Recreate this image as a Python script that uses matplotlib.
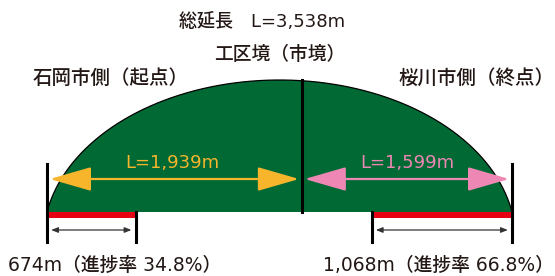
import numpy as np
import matplotlib.pyplot as plt
from matplotlib.patches import FancyArrowPatch

fam = ['DejaVu Sans', 'Noto Sans CJK JP']
plt.rcParams['font.family'] = fam

# 延長データ (m)
total_len = 3538
section_len = [1939, 1599]          # 石岡市側, 桜川市側
done_len = [674, 1068]              # 進捗
done_rate = [34.8, 66.8]            # 進捗率 (%)
title_txt = '総延長　L=3,538m'
side_names = ['石岡市側（起点）', '桜川市側（終点）']
border_txt = '工区境（市境）'

c_green = '#006934'
c_yellow = '#F7B52C'
c_pink = '#EE87B4'
c_red = '#E60012'
c_text = '#231815'

fig = plt.figure(figsize=(5.55, 2.76), dpi=100)
ax = fig.add_axes([0, 0, 1, 1])
# x は m、y は画素
px_per_m = 465 / total_len
ax.set_xlim(-47 / px_per_m, total_len + 43 / px_per_m)
ax.set_ylim(276, 0)
ax.axis('off')

base_y = 212
# アーチ（楕円の上部）
cy, b = 240, 160
t0 = np.arcsin((cy - base_y) / b)
t = np.linspace(t0, np.pi - t0, 400)
a = (total_len / 2) / np.cos(t0)
arc_x = total_len / 2 + a * np.cos(t)
arc_y = cy - b * np.sin(t)
ax.fill(np.r_[arc_x, arc_x[0]], np.r_[arc_y, base_y], color=c_green, lw=0, zorder=1)
ax.plot(arc_x, arc_y, color='black', lw=0.9, zorder=2)

# 市境
border = section_len[0]
ax.plot([border, border], [80, base_y], color='black', lw=2.2, zorder=3)

# 区間矢印
arr_y = 179
ends = [(0, border), (border, total_len)]
for (x0, x1), col in zip(ends, [c_yellow, c_pink]):
    ar = FancyArrowPatch((x0, arr_y), (x1, arr_y),
                         arrowstyle='<|-|>,head_length=26,head_width=7.5',
                         mutation_scale=1, color=col, lw=1.6,
                         shrinkA=2, shrinkB=2, zorder=4)
    ax.add_patch(ar)
ax.text((0 + border) / 2 - 15, 163, 'L={:,}m'.format(section_len[0]),
        color=c_yellow, fontsize=13, ha='center', va='center', zorder=5)
ax.text((border + total_len) / 2, 163, 'L={:,}m'.format(section_len[1]),
        color=c_pink, fontsize=13, ha='center', va='center', zorder=5)

# 進捗（赤バー）
done_left = [0, total_len - done_len[1]]
ax.barh(base_y + 3, done_len, left=done_left, height=6, color=c_red, zorder=5)

# 端部の縦線
ax.plot([0, 0], [164, 242], color='black', lw=2.2, zorder=6)
ax.plot([total_len, total_len], [164, 242], color='black', lw=2.2, zorder=6)
ax.plot([done_len[0], done_len[0]], [base_y, 242], color='black', lw=2.2, zorder=6)
ax.plot([done_left[1], done_left[1]], [base_y, 242], color='black', lw=2.2, zorder=6)

# 寸法線
for x0, w in zip(done_left, done_len):
    ar = FancyArrowPatch((x0, 230), (x0 + w, 230),
                         arrowstyle='<|-|>,head_length=4,head_width=1.6',
                         mutation_scale=1, color='#333333', lw=0.9,
                         shrinkA=3, shrinkB=3, zorder=6)
    ax.add_patch(ar)

# 文字
kw = dict(color=c_text, fontweight='medium', va='center')
ax.text(total_len / 2 - 130, 22, title_txt, fontsize=13, ha='center', **kw)
ax.text(border - 170, 54, border_txt, fontsize=13.5, ha='center', **kw)
ax.text(-107, 78, side_names[0], fontsize=14, ha='left', **kw)
ax.text(total_len + 320, 78, side_names[1], fontsize=14, ha='right', **kw)
lab0 = '{:,}m（進捗率 {}%）'.format(done_len[0], done_rate[0])
lab1 = '{:,}m（進捗率 {}%）'.format(done_len[1], done_rate[1])
ax.text(-300, 265, lab0, fontsize=13.5, ha='left', **kw)
ax.text(total_len + 320, 265, lab1, fontsize=13.5, ha='right', **kw)

fig.savefig('out.png', dpi=100)
